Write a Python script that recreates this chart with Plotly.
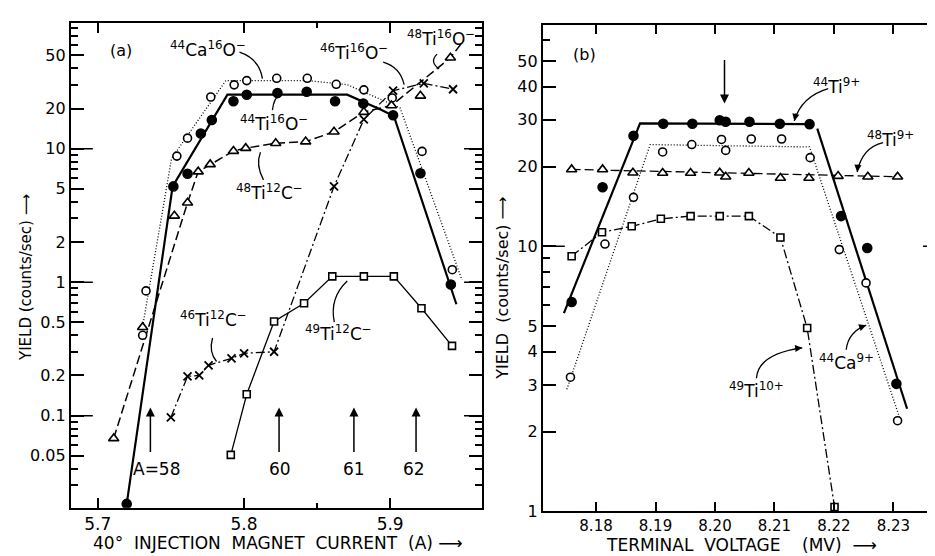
import numpy as np
import plotly.graph_objects as go

W, H = 935, 556
FONT = "DejaVu Sans"

# ---------------- Panel (a): yield vs injection magnet current ----------------
# 44Ca16O- (open circles)
ca16o_x = [5.7307, 5.7330, 5.7541, 5.7614, 5.7773, 5.7933, 5.8019, 5.8224, 5.8433, 5.8631, 5.8820, 5.9014, 5.9218, 5.9425]
ca16o_y = [0.40, 0.86, 8.8, 12.0, 24.4, 30.1, 32.4, 33.7, 33.7, 30.4, 27.6, 24.0, 9.55, 1.24]
# 44Ti16O- (filled circles)
ti44o_x = [5.7198, 5.7517, 5.7614, 5.7705, 5.7780, 5.7928, 5.8019, 5.8229, 5.8429, 5.8623, 5.8816, 5.9020, 5.9207, 5.9415]
ti44o_y = [0.0218, 5.22, 6.5, 13.0, 16.4, 22.7, 25.4, 26.1, 26.7, 22.7, 21.8, 17.8, 6.55, 0.96]
# 48Ti12C- / 48Ti16O- (triangles)
ti48c_x = [5.7109, 5.7307, 5.7524, 5.7614, 5.7687, 5.7769, 5.7928, 5.8012, 5.8217, 5.8422, 5.8616, 5.8820, 5.9009, 5.9207, 5.9412]
ti48c_y = [0.0675, 0.46, 3.14, 3.94, 6.73, 7.63, 9.6, 10.1, 11.0, 11.3, 13.4, 18.8, 21.1, 24.9, 48.0]
# 46Ti12C- / 46Ti16O- (crosses)
ti46_x = [5.7500, 5.7614, 5.7694, 5.7758, 5.7915, 5.8001, 5.8206, 5.8616, 5.8820, 5.9020, 5.9230, 5.9430]
ti46_y = [0.097, 0.197, 0.200, 0.238, 0.269, 0.293, 0.301, 5.22, 16.6, 27.2, 30.9, 27.9]
# 49Ti12C- (squares)
ti49c_x = [5.7910, 5.8019, 5.8206, 5.8411, 5.8604, 5.8820, 5.9025, 5.9214, 5.9423]
ti49c_y = [0.0508, 0.1446, 0.507, 0.695, 1.105, 1.105, 1.105, 0.638, 0.333]

# hand-drawn guide curves of panel (a)
fit_ti44o_x = [5.7198, 5.7512, 5.7887, 5.8706, 5.8934, 5.9025, 5.9453]
fit_ti44o_y = [0.0218, 5.22, 25.4, 25.4, 19.7, 17.6, 0.683]
fit_ca16o_x = [5.7297, 5.7505, 5.7876, 5.8433, 5.8706, 5.9068, 5.9491]
fit_ca16o_y = [0.402, 8.48, 32.4, 32.4, 30.2, 20.2, 1.04]
fit_ti48c_x = [5.7109, 5.7614, 5.7687, 5.7769, 5.7928, 5.8012, 5.8217, 5.8422, 5.8616, 5.8820, 5.9009, 5.9412, 5.9503]
fit_ti48c_y = [0.0675, 3.94, 6.73, 7.63, 9.6, 10.1, 11.0, 11.3, 13.4, 18.8, 21.1, 48.0, 64.8]

a_xticks = [5.7, 5.8, 5.9]
a_xticktext = ["5.7", "5.8", "5.9"]
a_xminor = [5.85]
a_yticks = [0.05, 0.1, 0.2, 0.5, 1, 2, 5, 10, 20, 50]
a_yticktext = ["0.05", "0.1", "0.2", "0.5", "1", "2", "5", "10", "20", "50"]
a_yminor = [0.03, 0.04, 0.06, 0.07, 0.08, 0.09, 0.3, 0.4, 0.6, 0.7, 0.8, 0.9,
            3, 4, 6, 7, 8, 9, 30, 40, 60, 70, 80]
a_decades = [0.1, 1, 10]
a_arrow_x = [5.7360, 5.8240, 5.8752, 5.9177]
a_arrow_lbl = ["A=58", "60", "61", "62"]
a_arrow_lbl_shift = [7, 1, 0, -2]

# ---------------- Panel (b): yield vs terminal voltage ----------------
ti44_9_x = [8.1759, 8.1811, 8.1863, 8.1913, 8.1962, 8.2008, 8.2018, 8.2058, 8.2109, 8.2159, 8.2212, 8.2256, 8.2305]
ti44_9_y = [6.17, 16.7, 26.1, 29.0, 29.0, 29.9, 29.5, 29.5, 29.0, 28.9, 13.0, 9.86, 3.03]
ca44_9_x = [8.1757, 8.1815, 8.1863, 8.1912, 8.1961, 8.2011, 8.2018, 8.2061, 8.2112, 8.2160, 8.2209, 8.2254, 8.2307]
ca44_9_y = [3.21, 10.2, 15.3, 22.7, 24.2, 25.3, 23.0, 25.4, 25.4, 21.6, 9.72, 7.28, 2.20]
ti48_9_x = [8.1759, 8.1811, 8.1862, 8.1912, 8.1959, 8.2008, 8.2018, 8.2057, 8.2110, 8.2158, 8.2207, 8.2257, 8.2307]
ti48_9_y = [19.5, 19.5, 18.95, 18.9, 18.9, 18.95, 18.3, 18.9, 18.1, 18.1, 18.4, 18.3, 18.3]
ti49_10_x = [8.1759, 8.1810, 8.1860, 8.1909, 8.1959, 8.2008, 8.2057, 8.2110, 8.2155, 8.2201]
ti49_10_y = [9.18, 11.3, 11.9, 12.7, 13.0, 13.0, 13.0, 10.8, 4.92, 1.04]

fit_ti44_9_x = [8.1746, 8.1874, 8.2156, None, 8.2172, 8.2323]
fit_ti44_9_y = [5.6, 29.1, 28.9, None, 27.8, 2.44]
fit_ca44_9_x = [8.1751, 8.1891, 8.2159, 8.2310]
fit_ca44_9_y = [2.89, 24.2, 23.7, 2.27]
fit_ti48_9_x = [8.1759, 8.2307]
fit_ti48_9_y = [19.5, 18.3]

b_xticks = [8.18, 8.19, 8.20, 8.21, 8.22, 8.23]
b_xticktext = ["8.18", "8.19", "8.20", "8.21", "8.22", "8.23"]
b_yticks = [1, 2, 3, 4, 5, 10, 20, 30, 40, 50]
b_yticktext = ["1", "2", "3", "4", "5", "10", "20", "30", "40", "50"]
b_yminor = [6, 7, 8, 9, 60]
b_arrow_x = 8.2016
b_arrow_y = 34.6

# ---------------- figure ----------------
fig = go.Figure()


def add_line(x, y, xa, ya, dash, width):
    fig.add_trace(go.Scatter(x=x, y=y, mode="lines", xaxis=xa, yaxis=ya,
                             line=dict(color="black", width=width, dash=dash),
                             showlegend=False, hoverinfo="skip", connectgaps=False))


def add_marks(x, y, xa, ya, symbol, size, fill="white", lw=1.6):
    fig.add_trace(go.Scatter(x=x, y=y, mode="markers", xaxis=xa, yaxis=ya,
                             marker=dict(symbol=symbol, size=size, color=fill,
                                         line=dict(color="black", width=lw)),
                             showlegend=False, hoverinfo="skip"))


# panel (a) lines
add_line(fit_ca16o_x, fit_ca16o_y, "x", "y", "1px,2px", 1.3)
add_line(fit_ti44o_x, fit_ti44o_y, "x", "y", "solid", 2.2)
add_line(fit_ti48c_x, fit_ti48c_y, "x", "y", "9px,4px", 1.5)
add_line(ti46_x, ti46_y, "x", "y", "9px,3px,2px,3px", 1.3)
add_line(ti49c_x, ti49c_y, "x", "y", "solid", 1.3)
# panel (a) markers
add_marks(ca16o_x, ca16o_y, "x", "y", "circle", 8)
add_marks(ti44o_x, ti44o_y, "x", "y", "circle", 9, fill="black")
add_marks(ti48c_x, ti48c_y, "x", "y", "triangle-up", 9)
add_marks(ti46_x, ti46_y, "x", "y", "x-thin", 8, lw=1.8)
add_marks(ti49c_x, ti49c_y, "x", "y", "square", 7)

# panel (b) lines
add_line(fit_ca44_9_x, fit_ca44_9_y, "x2", "y2", "1px,2px", 1.3)
add_line(fit_ti44_9_x, fit_ti44_9_y, "x2", "y2", "solid", 2.2)
add_line(fit_ti48_9_x, fit_ti48_9_y, "x2", "y2", "9px,4px", 1.3)
add_line(ti49_10_x, ti49_10_y, "x2", "y2", "9px,3px,2px,3px", 1.3)
# panel (b) markers
add_marks(ca44_9_x, ca44_9_y, "x2", "y2", "circle", 8)
add_marks(ti44_9_x, ti44_9_y, "x2", "y2", "circle", 9, fill="black")
add_marks(ti48_9_x, ti48_9_y, "x2", "y2", "triangle-up", 9)
add_marks(ti49_10_x, ti49_10_y, "x2", "y2", "square", 7)

axis_common = dict(showline=True, linecolor="black", linewidth=2, mirror="allticks",
                   ticks="inside", tickcolor="black", tickwidth=1.5, showgrid=False,
                   zeroline=False)

fig.update_layout(
    width=W, height=H, autosize=False,
    margin=dict(l=0, r=0, t=0, b=0),
    paper_bgcolor="white", plot_bgcolor="white",
    font=dict(family=FONT, color="black"),
    xaxis=dict(**axis_common, domain=[63 / W, 475 / W], range=[5.6816, 5.9628], anchor="y",
               tickmode="array", tickvals=a_xticks, ticktext=a_xticktext, ticklen=10,
               tickfont=dict(family=FONT, color="black", size=17),
               minor=dict(tickmode="array", tickvals=a_xminor, ticklen=5, ticks="inside",
                          tickcolor="black", tickwidth=1.5)),
    yaxis=dict(**axis_common, domain=[1 - 509 / H, 1 - 15 / H], type="log",
               range=[-1.691, 1.944], anchor="x",
               tickmode="array", tickvals=a_yticks, ticktext=a_yticktext, ticklen=13,
               tickfont=dict(family=FONT, color="black", size=16),
               minor=dict(tickmode="array", tickvals=a_yminor, ticklen=7, ticks="inside",
                          tickcolor="black", tickwidth=1.5)),
    xaxis2=dict(**axis_common, domain=[536 / W, 1.0], range=[8.17106, 8.2380], anchor="y2",
                tickmode="array", tickvals=b_xticks, ticktext=b_xticktext, ticklen=9,
                tickfont=dict(family=FONT, color="black", size=15)),
    yaxis2=dict(**axis_common, domain=[1 - 512.7 / H, 1 - 17.3 / H], type="log",
                range=[0, 1.8348], anchor="x2",
                tickmode="array", tickvals=b_yticks, ticktext=b_yticktext, ticklen=13,
                tickfont=dict(family=FONT, color="black", size=16),
                minor=dict(tickmode="array", tickvals=b_yminor, ticklen=7, ticks="inside",
                           tickcolor="black", tickwidth=1.5)),
)

# long decade ticks
shapes = []
for d in a_decades:
    shapes.append(dict(type="line", xref="x domain", yref="y", x0=0, x1=22 / 412, y0=d, y1=d,
                       line=dict(color="black", width=1.5)))
    shapes.append(dict(type="line", xref="x domain", yref="y", x0=1 - 18 / 412, x1=1, y0=d, y1=d,
                       line=dict(color="black", width=1.5)))
shapes.append(dict(type="line", xref="x2 domain", yref="y2", x0=0, x1=22 / 399, y0=10, y1=10,
                   line=dict(color="black", width=1.5)))
shapes.append(dict(type="line", xref="x2 domain", yref="y2", x0=1 - 18 / 399, x1=1, y0=10, y1=10,
                   line=dict(color="black", width=1.5)))


def P(xp, yp):
    return f"{xp / W:.5f},{1 - yp / H:.5f}"


def curve(p0, c, p1):
    shapes.append(dict(type="path", xref="paper", yref="paper",
                       path=f"M {P(*p0)} Q {P(*c)} {P(*p1)}",
                       line=dict(color="black", width=1.3)))


# leader curves panel (a)
curve((232, 45), (252, 52), (255, 72))
curve((265, 104), (266, 92), (274, 86))
curve((253, 147), (248, 160), (256, 175))
curve((376, 55), (393, 60), (397, 78))
curve((430, 47), (422, 55), (432, 62))
curve((205, 336), (201, 350), (209, 360))
curve((327, 320), (322, 295), (340, 278))
# leader curves panel (b)
curve((822, 82), (795, 90), (788, 115))
curve((877, 137), (856, 142), (851, 167))
curve((750, 377), (752, 352), (796, 346))
curve((840, 348), (842, 330), (860, 323))
fig.update_layout(shapes=shapes)

ann = []


def label(xp, yp, text, size=16, angle=0):
    ann.append(dict(xref="paper", yref="paper", x=xp / W, y=1 - yp / H, text=text,
                    showarrow=False, font=dict(family=FONT, size=size, color="black"),
                    xanchor="center", yanchor="middle", textangle=angle))


def head(xp, yp, ax, ay):
    ann.append(dict(xref="paper", yref="paper", x=xp / W, y=1 - yp / H, text="",
                    showarrow=True, ax=ax, ay=ay, arrowhead=2, arrowsize=1.1,
                    arrowwidth=1.3, arrowcolor="black"))


label(113, 43, "(a)", 16)
label(578, 47, "(b)", 16)
label(200, 42, "<sup>44</sup>Ca<sup>16</sup>O<sup>−</sup>", 17)
label(267, 117, "<sup>44</sup>Ti<sup>16</sup>O<sup>−</sup>", 17)
label(262, 187, "<sup>48</sup>Ti<sup>12</sup>C<sup>−</sup>", 17)
label(347, 45, "<sup>46</sup>Ti<sup>16</sup>O<sup>−</sup>", 17)
label(434, 31, "<sup>48</sup>Ti<sup>16</sup>O<sup>−</sup>", 17)
label(206, 317, "<sup>46</sup>Ti<sup>12</sup>C<sup>−</sup>", 17)
label(331, 331, "<sup>49</sup>Ti<sup>12</sup>C<sup>−</sup>", 17)
label(830, 79, "<sup>44</sup>Ti<sup>9+</sup>", 17)
label(884, 133, "<sup>48</sup>Ti<sup>9+</sup>", 17)
label(750, 389, "<sup>49</sup>Ti<sup>10+</sup>", 17)
label(840, 360, "<sup>44</sup>Ca<sup>9+</sup>", 17)

head(788, 115, 2, -9)
head(851, 167, 1, -9)
head(796, 346, -9, 1)
head(860, 323, -8, 3)

# mass arrows in panel (a)
for ax_, lbl, sh in zip(a_arrow_x, a_arrow_lbl, a_arrow_lbl_shift):
    ann.append(dict(xref="x", yref="y", x=ax_, y=np.log10(0.115), text="", showarrow=True,
                    ax=0, ay=46, arrowhead=2, arrowsize=1.2, arrowwidth=1.5, arrowcolor="black"))
    ann.append(dict(xref="x", yref="y", x=ax_, y=np.log10(0.0400), text=lbl, showarrow=False,
                    font=dict(family=FONT, size=17, color="black"), xanchor="center",
                    yanchor="middle", xshift=sh))
# arrow in panel (b)
ann.append(dict(xref="x2", yref="y2", x=b_arrow_x, y=np.log10(b_arrow_y), text="", showarrow=True,
                ax=0, ay=-45, arrowhead=2, arrowsize=1.2, arrowwidth=1.5, arrowcolor="black"))

# axis titles
label(271, 545, "40°  INJECTION  MAGNET  CURRENT  (A) ⟶", 17)
label(735, 547, "TERMINAL  VOLTAGE    (MV)  ⟶", 17)
label(18, 274, "YIELD (counts/sec) ⟶", 15, -90)
label(496, 285, "YIELD  (counts/sec) ⟶", 16, -90)

fig.update_layout(annotations=ann)
fig.write_html("out.html")
